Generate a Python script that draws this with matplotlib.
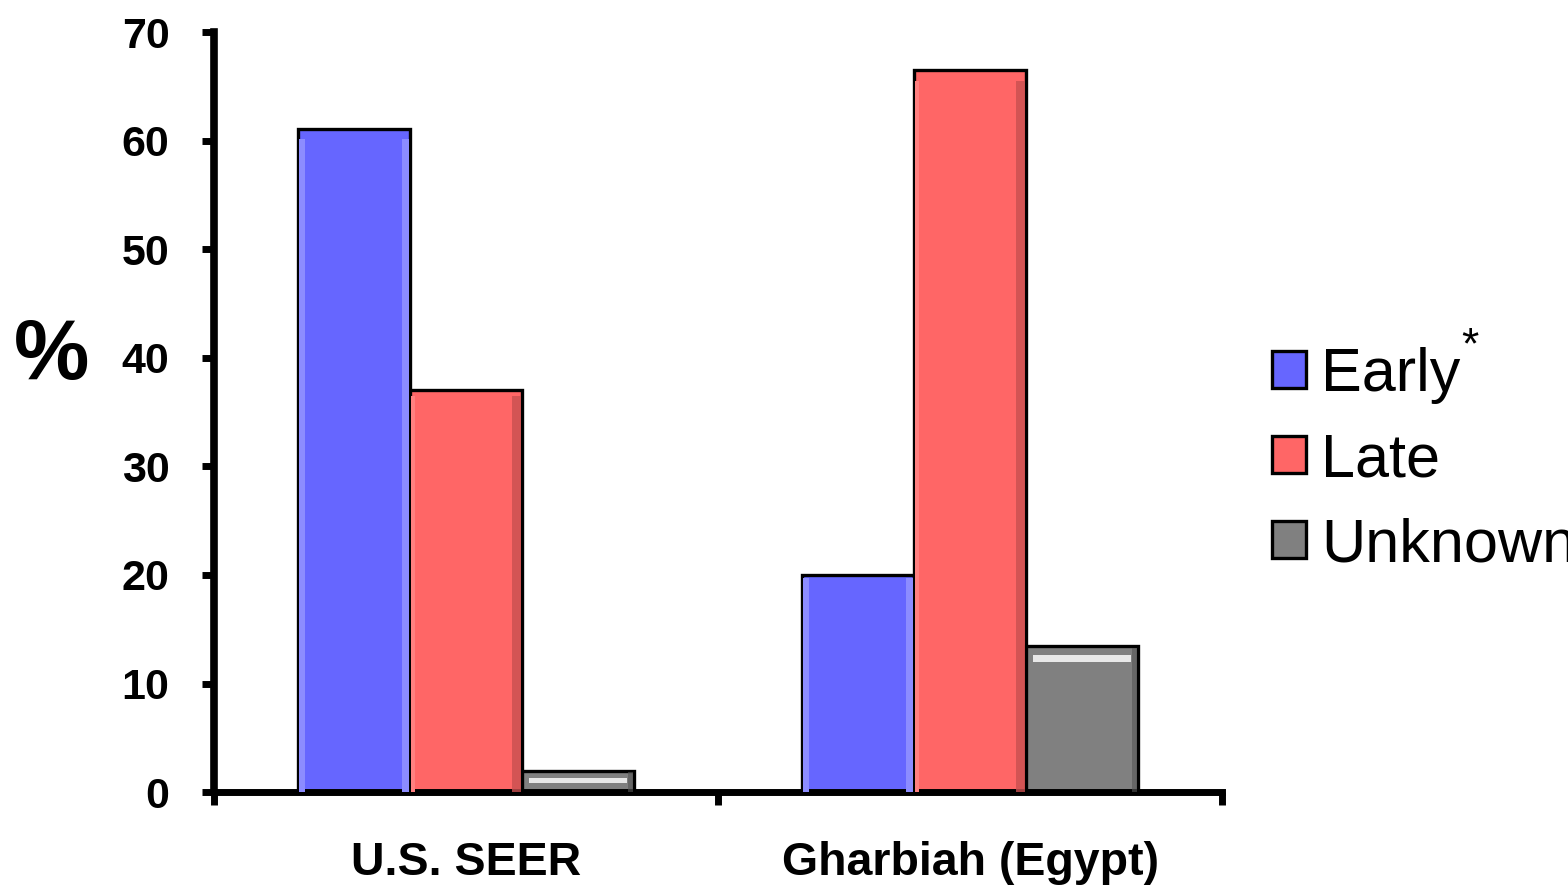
import matplotlib
matplotlib.use("Agg")
import matplotlib.pyplot as plt
from matplotlib.patches import Rectangle
import numpy as np

plt.rcParams['font.family'] = ['Liberation Sans', 'DejaVu Sans']

# stage at diagnosis, percent of cases
groups = ["U.S. SEER", "Gharbiah (Egypt)"]
early = [61.1, 20.0]
late = [37.0, 66.5]
unknown = [1.9, 13.5]
series_names = ["Early", "Late", "Unknown"]
colors = ["#6666FF", "#FF6666", "#808080"]

fig = plt.figure(figsize=(15.68, 8.9), dpi=100)
ax = fig.add_axes([0.1365, 0.110, 0.6429, 0.854])

x = np.arange(len(groups))
w = 0.222
bars = []
for i, (vals, name, c) in enumerate(zip([early, late, unknown], series_names, colors)):
    b = ax.bar(x + (i - 1) * w, vals, w, color=c, edgecolor="black",
               linewidth=2.4, label=name, zorder=2)
    bars.append(b)


# a little shading inside each bar so they look bevelled
def shade(patch, side, frac, color, alpha=1.0):
    x0, y0 = patch.get_x(), patch.get_y()
    bw, bh = patch.get_width(), patch.get_height()
    if side == "left":
        r = Rectangle((x0 + 0.01 * bw, y0), frac * bw, bh * 0.985)
    elif side == "right":
        r = Rectangle((x0 + bw * (0.99 - frac), y0), frac * bw, bh * 0.985)
    else:
        hh = min(0.7, bh * 0.25)
        r = Rectangle((x0 + 0.06 * bw, y0 + bh - 2.2 * hh), bw * 0.88, hh)
    r.set_facecolor(color)
    r.set_alpha(alpha)
    r.set_edgecolor("none")
    r.set_zorder(3)
    ax.add_patch(r)


for p in bars[0]:
    shade(p, "left", 0.05, "#8C8CFF")
    shade(p, "right", 0.06, "#8C8CFF")
for p in bars[1]:
    shade(p, "right", 0.08, "#C85050", 0.8)
    shade(p, "left", 0.03, "#FF8080")
for p in bars[2]:
    shade(p, "top", 0, "#E8E8E8")
    shade(p, "right", 0.04, "#555555", 0.6)

ax.set_xlim(-0.5, 1.5)
ax.set_ylim(0, 70)
ax.set_yticks(np.arange(0, 71, 10))

for s in ["top", "right"]:
    ax.spines[s].set_visible(False)
ax.spines["left"].set_linewidth(5.5)
ax.spines["bottom"].set_linewidth(5.0)

ax.tick_params(axis="y", direction="out", length=9, width=5, pad=23,
               labelsize=31)
for lab in ax.get_yticklabels():
    lab.set_fontweight("bold")

# group boundaries carry the ticks, names sit at the centres
ax.set_xticks([-0.5, 0.5, 1.5])
ax.set_xticklabels([])
ax.tick_params(axis="x", which="major", direction="out", length=9, width=5)
ax.set_xticks(x, minor=True)
ax.set_xticklabels(groups, minor=True, fontsize=33.5, fontweight="bold")
ax.tick_params(axis="x", which="minor", length=0, pad=35)

fig.text(52 / 1568, 1 - 357 / 890, "%", fontsize=61, fontweight="bold",
         ha="center", va="center")

leg = ax.legend(loc="center left", bbox_to_anchor=(1.0496, 0.436),
                frameon=False, fontsize=44, handlelength=0.55,
                handleheight=0.55, handletextpad=0.25, labelspacing=0.46,
                borderpad=0, borderaxespad=0)
for h in leg.legend_handles:
    h.set_linewidth(2.4)
fig.text(1470 / 1568, 1 - 347 / 890, "*", fontsize=32, ha="center",
         va="center")

fig.savefig("out.png", dpi=100)
